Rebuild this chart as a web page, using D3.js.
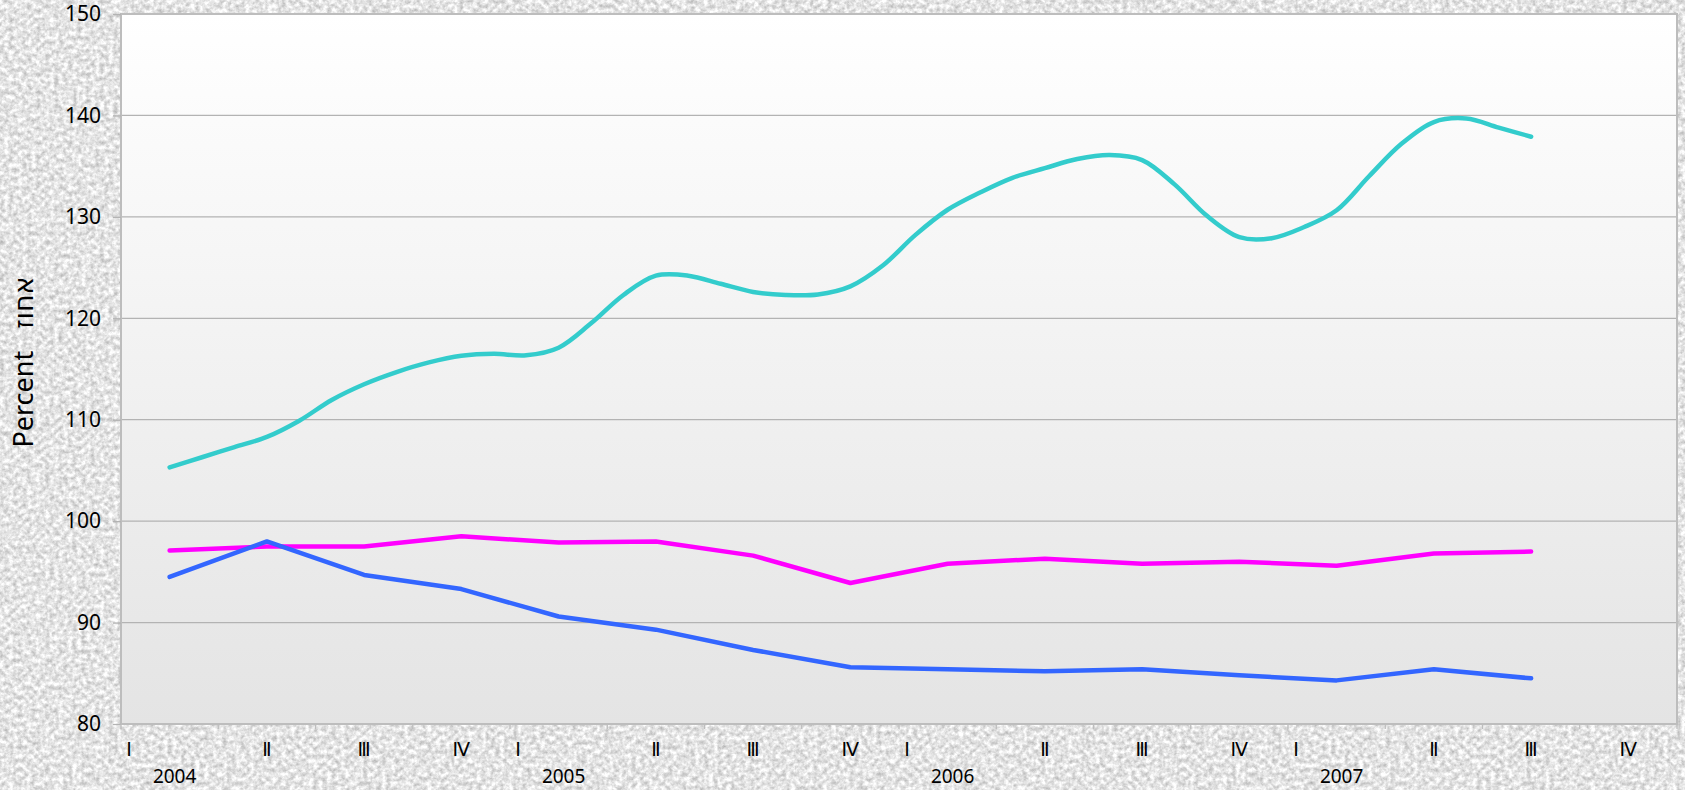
<!DOCTYPE html>
<html>
<head>
<meta charset="utf-8">
<script src="https://cdn.jsdelivr.net/npm/d3@7/dist/d3.min.js"></script>
<style>
  html, body { margin: 0; padding: 0; overflow: hidden; background: #e6e6e6; }
  svg { display: block; }
  text { font-family: "Noto Sans", "DejaVu Sans", sans-serif; fill: #000; }
</style>
</head>
<body>
<svg id="chart" width="1685" height="790"></svg>
<script>
// ---- data ----
const years = ["2004", "2005", "2006", "2007"];
const quarterNames = ["Ⅰ", "Ⅱ", "Ⅲ", "Ⅳ"];
const yTicks = [80, 90, 100, 110, 120, 130, 140, 150];

// quarterly series (2004 Ⅰ – 2007 Ⅲ)
const blueSeries = [94.5, 98.0, 94.7, 93.3, 90.6, 89.3, 87.3, 85.6, 85.4, 85.2, 85.4, 84.8, 84.3, 85.4, 84.5];
const magentaSeries = [97.1, 97.5, 97.5, 98.5, 97.9, 98.0, 96.6, 93.9, 95.8, 96.3, 95.8, 96.0, 95.6, 96.8, 97.0];

// monthly series, Feb 2004 – Aug 2007
const cyanFirstMonth = 1; // months counted from Jan 2004
const cyanSeries = [
  105.3, 106.3, 107.3, 108.3, 109.9, 111.95, 113.5, 114.7, 115.65, 116.3, 116.5, 116.35,
  117.1, 119.5, 122.3, 124.2, 124.2, 123.4, 122.6, 122.3, 122.35, 123.15, 125.2, 128.2,
  130.7, 132.4, 133.85, 134.8, 135.7, 136.1, 135.6, 133.2, 130.1, 128.0, 127.9, 129.0,
  130.65, 134.0, 137.2, 139.35, 139.7, 138.8, 137.9
];

const categories = years.flatMap(y => quarterNames.map(q => y + " " + q));

// ---- layout ----
const W = 1685, H = 790;
const plot = { left: 121, top: 14, right: 1677, bottom: 724 };

const svg = d3.select("#chart");
const defs = svg.append("defs");

// speckled paper backdrop
const grain = defs.append("filter").attr("id", "grain")
  .attr("x", 0).attr("y", 0).attr("width", "100%").attr("height", "100%")
  .attr("color-interpolation-filters", "sRGB");
grain.append("feTurbulence").attr("type", "fractalNoise")
  .attr("baseFrequency", 0.22).attr("numOctaves", 3).attr("seed", 11);
grain.append("feColorMatrix").attr("type", "matrix")
  .attr("values", "0.45 0 0 0 0.67  0.45 0 0 0 0.67  0.45 0 0 0 0.67  0 0 0 0 1");
grain.append("feGaussianBlur").attr("stdDeviation", 0.5);

const grad = defs.append("linearGradient").attr("id", "plotFill")
  .attr("x1", 0).attr("y1", 0).attr("x2", 0).attr("y2", 1);
grad.append("stop").attr("offset", "0%").attr("stop-color", "#ffffff");
grad.append("stop").attr("offset", "100%").attr("stop-color", "#e4e4e4");

svg.append("rect").attr("width", W).attr("height", H).attr("filter", "url(#grain)");

// ---- scales ----
const x = d3.scaleBand().domain(categories).range([plot.left, plot.right]).padding(0);
const xMonth = d3.scaleLinear().domain([0, 48]).range([plot.left, plot.right]);
const y = d3.scaleLinear().domain([80, 150]).range([plot.bottom, plot.top]);

// plot area
svg.append("rect")
  .attr("x", plot.left).attr("y", plot.top)
  .attr("width", plot.right - plot.left).attr("height", plot.bottom - plot.top)
  .attr("fill", "url(#plotFill)");

// horizontal gridlines
svg.append("g").selectAll("line")
  .data(yTicks.filter(t => t > 80 && t < 150))
  .join("line")
  .attr("x1", plot.left).attr("x2", plot.right)
  .attr("y1", d => y(d)).attr("y2", d => y(d))
  .attr("stroke", "#b3b3b3").attr("stroke-width", 1.3);

// plot frame
svg.append("rect")
  .attr("x", plot.left).attr("y", plot.top)
  .attr("width", plot.right - plot.left).attr("height", plot.bottom - plot.top)
  .attr("fill", "none").attr("stroke", "#bdbdbd").attr("stroke-width", 2);

// y axis
const yAxis = svg.append("g")
  .attr("transform", `translate(${plot.left},0)`)
  .call(d3.axisLeft(y).tickValues(yTicks).tickSize(8).tickPadding(12));
yAxis.select(".domain").remove();
yAxis.selectAll(".tick line").attr("stroke", "#b3b3b3").attr("stroke-width", 1.3);
yAxis.selectAll(".tick text")
  .attr("font-size", 21).attr("font-family", "'Noto Sans', 'DejaVu Sans', sans-serif")
  .attr("fill", "#000");

// x axis: tick marks on category boundaries
const boundaries = categories.map(c => x(c)).concat([plot.right]);
svg.append("g").selectAll("line")
  .data(boundaries)
  .join("line")
  .attr("x1", d => d).attr("x2", d => d)
  .attr("y1", plot.bottom).attr("y2", plot.bottom + 5)
  .attr("stroke", "#bdbdbd").attr("stroke-width", 1.3);

// quarter labels
svg.append("g").selectAll("text")
  .data(categories)
  .join("text")
  .attr("x", (d, i) => i % 4 === 0 ? x(d) + 8 : x(d) + x.bandwidth() / 2)
  .attr("y", 756)
  .attr("text-anchor", "middle")
  .attr("font-size", 19)
  .text((d, i) => quarterNames[i % 4]);

// year labels
svg.append("g").selectAll("text")
  .data(years)
  .join("text")
  .attr("x", d => x(d + " " + quarterNames[0]) + x.bandwidth() / 2 + 5)
  .attr("y", 783)
  .attr("text-anchor", "middle")
  .attr("font-size", 19)
  .text(d => d);

// y axis title
const title = svg.append("text")
  .attr("transform", "translate(33,362) rotate(-90)")
  .attr("text-anchor", "middle")
  .attr("font-size", 27);
title.append("tspan").text("Percent");
title.append("tspan").attr("dx", 22).text("אחוז");

// ---- series ----
const qLine = d3.line()
  .x((d, i) => x(categories[i]) + x.bandwidth() / 2)
  .y(d => y(d));

const mLine = d3.line()
  .x((d, i) => xMonth(cyanFirstMonth + i + 0.5))
  .y(d => y(d))
  .curve(d3.curveCatmullRom.alpha(0.5));

const series = [
  { values: cyanSeries, gen: mLine, color: "#33cccc" },
  { values: magentaSeries, gen: qLine, color: "#ff00ff" },
  { values: blueSeries, gen: qLine, color: "#3366ff" }
];

svg.append("g").selectAll("path")
  .data(series)
  .join("path")
  .attr("d", s => s.gen(s.values))
  .attr("fill", "none")
  .attr("stroke", s => s.color)
  .attr("stroke-width", 4.5)
  .attr("stroke-linejoin", "round")
  .attr("stroke-linecap", "round");
</script>
</body>
</html>
